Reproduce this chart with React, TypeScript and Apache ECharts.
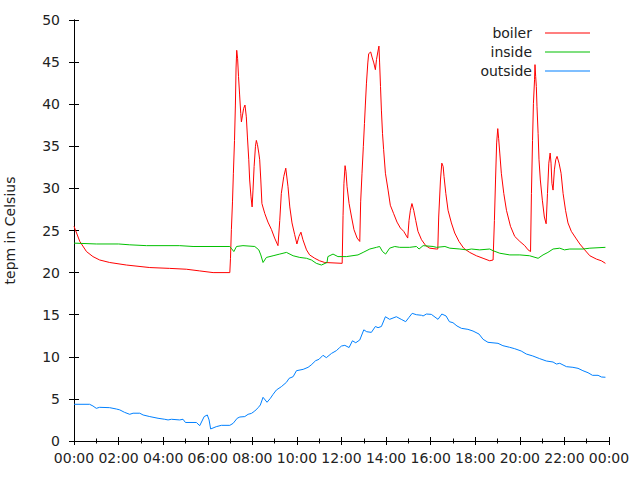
import React, { useEffect, useRef } from "react";
import * as echarts from "echarts";

const xTickHours = [0, 2, 4, 6, 8, 10, 12, 14, 16, 18, 20, 22, 24];
const yTicks = [0, 5, 10, 15, 20, 25, 30, 35, 40, 45, 50];
const seriesNames = ["boiler", "inside", "outside"];
const seriesColors = ["#ff0000", "#00c000", "#0080ff"];

const boiler: [number, number][] = [
  [0, 25.5], [0.26, 23.7], [0.56, 22.5], [0.85, 21.9], [1.15, 21.5], [1.6, 21.2], [2.35, 20.9],
  [3.4, 20.6], [4.29, 20.5], [5.04, 20.4], [5.64, 20.2], [6.24, 20.0], [6.99, 20.0],
  [7.02, 21.7], [7.06, 25.1], [7.11, 28.4], [7.15, 31.8], [7.2, 35.7], [7.24, 39.9], [7.27, 44.3],
  [7.3, 46.4], [7.34, 45.4], [7.38, 43.3], [7.43, 41.1], [7.48, 38.9], [7.51, 37.9], [7.56, 38.7],
  [7.61, 39.5], [7.67, 39.9], [7.73, 38.5], [7.78, 36.1], [7.84, 33.4], [7.88, 31.0], [7.94, 29.0],
  [7.99, 27.8], [8.03, 29.8], [8.08, 32.6], [8.14, 35.0], [8.18, 35.7], [8.23, 35.2], [8.29, 34.2],
  [8.33, 33.4], [8.38, 31.0], [8.43, 28.2], [8.56, 27.0], [8.7, 26.0], [8.86, 25.1], [9.0, 24.1],
  [9.15, 23.2], [9.23, 26.2], [9.3, 29.4], [9.41, 31.4], [9.5, 32.4], [9.6, 30.2], [9.68, 27.8],
  [9.78, 25.9], [9.9, 24.5], [10.0, 23.4], [10.09, 24.3], [10.18, 24.8], [10.27, 23.9], [10.43, 22.7],
  [10.57, 22.1], [10.8, 21.7], [11.02, 21.4], [11.25, 21.2], [12.03, 21.1], [12.07, 26.8],
  [12.11, 30.6], [12.16, 32.7], [12.2, 32.0], [12.25, 30.2], [12.34, 28.2], [12.45, 26.6],
  [12.56, 25.1], [12.7, 24.1], [12.82, 23.7], [12.86, 28.4], [12.92, 31.8], [12.98, 35.0],
  [13.03, 37.7], [13.07, 39.9], [13.12, 42.5], [13.18, 44.9], [13.22, 46.0], [13.31, 46.2],
  [13.37, 45.6], [13.45, 44.9], [13.52, 44.1], [13.57, 45.3], [13.63, 46.2], [13.68, 46.9],
  [13.71, 44.9], [13.75, 42.1], [13.79, 39.3], [13.84, 36.5], [13.89, 34.6], [13.97, 31.8],
  [14.09, 29.8], [14.19, 28.0], [14.34, 27.0], [14.49, 26.0], [14.64, 25.3], [14.79, 24.9],
  [14.97, 24.1], [15.03, 26.2], [15.09, 27.4], [15.16, 28.2], [15.24, 27.4], [15.33, 26.2],
  [15.43, 24.9], [15.59, 23.9], [15.78, 23.2], [15.96, 22.9], [16.26, 22.8], [16.32, 22.8],
  [16.36, 26.6], [16.44, 31.0], [16.5, 33.0], [16.56, 32.6], [16.6, 31.4], [16.68, 29.4],
  [16.78, 27.4], [16.93, 25.9], [17.08, 24.7], [17.27, 23.7], [17.48, 22.9], [17.75, 22.4],
  [18.05, 22.0], [18.35, 21.7], [18.65, 21.4], [18.8, 21.5], [18.86, 26.2], [18.91, 31.0],
  [18.96, 35.4], [19.01, 37.1], [19.05, 35.9], [19.1, 34.2], [19.17, 31.8], [19.28, 29.4],
  [19.4, 27.4], [19.58, 25.5], [19.77, 24.3], [20.0, 23.7], [20.22, 23.2], [20.37, 22.7],
  [20.48, 22.5], [20.52, 29.4], [20.57, 35.7], [20.61, 40.1], [20.66, 42.9], [20.68, 44.7],
  [20.71, 43.3], [20.74, 42.1], [20.77, 39.7], [20.82, 36.5], [20.86, 33.4], [20.92, 31.0],
  [21.01, 28.6], [21.1, 26.6], [21.18, 25.8], [21.24, 29.4], [21.3, 33.0], [21.36, 34.2],
  [21.4, 33.0], [21.44, 30.6], [21.49, 29.8], [21.55, 32.2], [21.61, 33.4], [21.67, 33.8],
  [21.76, 33.0], [21.85, 31.8], [21.94, 29.4], [22.05, 27.4], [22.16, 25.9], [22.31, 24.9],
  [22.51, 24.1], [22.69, 23.4], [22.91, 22.7], [23.14, 22.0], [23.44, 21.6], [23.66, 21.4],
  [23.84, 21.1],
];

const inside: [number, number][] = [
  [0, 23.5], [1.0, 23.4], [2.0, 23.4], [2.5, 23.3], [3.25, 23.2], [4.74, 23.2], [5.34, 23.1],
  [6.99, 23.1], [7.05, 22.9], [7.17, 22.5], [7.29, 23.1], [7.58, 23.2], [8.11, 23.1], [8.29, 22.7],
  [8.38, 22.1], [8.48, 21.2], [8.63, 21.8], [8.93, 22.0], [9.23, 22.2], [9.53, 22.4], [9.83, 22.0],
  [10.13, 21.8], [10.43, 21.7], [10.65, 21.5], [10.87, 21.1], [11.1, 20.9], [11.35, 21.2],
  [11.39, 21.9], [11.62, 22.2], [11.84, 21.9], [12.22, 21.9], [12.74, 22.1], [12.97, 22.4],
  [13.27, 22.8], [13.57, 23.0], [13.71, 23.1], [13.84, 22.5], [13.98, 22.2], [14.16, 22.9],
  [14.39, 23.1], [14.61, 23.0], [15.06, 23.0], [15.36, 23.1], [15.48, 22.8], [15.66, 23.2],
  [16.11, 23.1], [16.26, 23.0], [16.64, 23.1], [16.86, 22.9], [17.31, 22.8], [17.61, 22.7],
  [17.83, 22.8], [18.2, 22.7], [18.65, 22.8], [18.8, 22.6], [19.1, 22.3], [19.55, 22.1],
  [20.0, 22.1], [20.44, 22.0], [20.82, 21.7], [21.04, 22.1], [21.26, 22.4], [21.49, 22.8],
  [21.79, 22.9], [22.0, 22.7], [22.24, 22.8], [22.84, 22.8], [23.14, 22.9], [23.84, 23.0],
];

const outside: [number, number][] = [
  [0, 4.36], [0.7, 4.36], [0.85, 4.16], [1.0, 3.88], [1.15, 4.0], [1.6, 3.96], [1.9, 3.8],
  [2.05, 3.7], [2.27, 3.4], [2.5, 3.17], [2.65, 3.3], [2.95, 3.3], [3.1, 3.09], [3.4, 2.9],
  [3.77, 2.7], [4.07, 2.58], [4.22, 2.5], [4.37, 2.58], [4.74, 2.5], [4.89, 2.58], [5.0, 2.2],
  [5.49, 2.2], [5.64, 1.82], [5.84, 2.9], [5.98, 3.09], [6.06, 2.5], [6.13, 1.43], [6.38, 1.7],
  [6.61, 1.86], [6.99, 1.86], [7.14, 2.1], [7.32, 2.7], [7.44, 2.85], [7.66, 2.9], [7.81, 3.17],
  [7.96, 3.28], [8.11, 3.56], [8.26, 3.96], [8.36, 4.28], [8.48, 5.19], [8.66, 4.6], [8.81, 5.07],
  [8.93, 5.54], [9.08, 6.06], [9.3, 6.45], [9.53, 6.97], [9.65, 7.44], [9.83, 7.64], [9.98, 8.35],
  [10.28, 8.51], [10.5, 8.75], [10.64, 9.03], [10.84, 9.54], [10.99, 9.7], [11.17, 10.18],
  [11.32, 9.9], [11.55, 10.4], [11.77, 10.73], [11.92, 11.1], [12.0, 11.28], [12.15, 11.36],
  [12.34, 11.1], [12.49, 11.9], [12.64, 11.67], [12.82, 12.0], [13.0, 13.2], [13.13, 12.98],
  [13.34, 12.9], [13.52, 13.6], [13.64, 13.46], [13.79, 13.6], [13.97, 14.76], [14.16, 14.45],
  [14.46, 14.76], [14.68, 14.45], [14.88, 14.17], [15.03, 14.69], [15.17, 15.16], [15.36, 15.0],
  [15.59, 14.93], [15.66, 14.85], [15.81, 15.08], [16.03, 15.04], [16.33, 14.45], [16.5, 15.08],
  [16.69, 14.85], [16.84, 14.17], [17.0, 14.05], [17.18, 13.66], [17.38, 13.38], [17.67, 13.26],
  [17.9, 13.06], [18.17, 12.7], [18.35, 12.08], [18.57, 11.72], [19.02, 11.6], [19.24, 11.32],
  [19.54, 11.13], [19.77, 10.96], [20.06, 10.69], [20.29, 10.33], [20.58, 10.1], [20.89, 9.78],
  [21.19, 9.5], [21.49, 9.38], [21.64, 9.14], [21.79, 9.23], [22.09, 8.83], [22.38, 8.75],
  [22.61, 8.63], [22.83, 8.35], [23.06, 8.11], [23.26, 7.8], [23.51, 7.8], [23.66, 7.6],
  [23.84, 7.57],
];

const FONT = "DejaVu Sans";
const TEXT_COLOR = "#222";
const LEGEND_LINE_ICON = "path://M0,0 L45,0 L45,1 L0,1 Z";

function fmtHour(v: number): string {
  const h = Math.round(v) % 24;
  return (h < 10 ? "0" : "") + h + ":00";
}

export default function App() {
  const ref = useRef<HTMLDivElement>(null);
  useEffect(() => {
    document.body.style.margin = "0";
    const chart = echarts.init(ref.current!, null, { renderer: "svg" });
    const axisLine = { show: true, lineStyle: { color: "#000", width: 1 } };
    const xCommon = {
      type: "value" as const,
      min: xTickHours[0],
      max: xTickHours[xTickHours.length - 1],
      interval: 2,
      axisLine,
      axisTick: { show: true, inside: true, length: 4, lineStyle: { color: "#000" } },
      minorTick: { show: true, splitNumber: 2, length: 2.5, lineStyle: { color: "#000" } },
      splitLine: { show: false },
    };
    const yCommon = {
      type: "value" as const,
      min: yTicks[0],
      max: yTicks[yTicks.length - 1],
      interval: 5,
      axisLine,
      axisTick: { show: true, inside: true, length: 5, lineStyle: { color: "#000" } },
      splitLine: { show: false },
    };
    const datasets = [boiler, inside, outside];
    const legends = seriesNames.map((name, i) => ({
      data: [{ name, icon: LEGEND_LINE_ICON, itemStyle: { color: seriesColors[i] } }],
      right: 50,
      top: 26 + i * 19,
      orient: "vertical" as const,
      align: "right" as const,
      padding: 0,
      itemWidth: 45,
      itemHeight: 14,
      symbolKeepAspect: true,
      selectedMode: false,
      textStyle: {
        fontFamily: FONT,
        fontSize: 14,
        color: TEXT_COLOR,
        padding: [0, 8, 0, 0],
      },
    }));
    chart.setOption({
      animation: false,
      backgroundColor: "#fff",
      grid: { left: 74, right: 31, top: 20, bottom: 39, outerBoundsMode: "none", containLabel: false },
      legend: legends,
      xAxis: [
        {
          ...xCommon,
          position: "bottom",
          axisLabel: {
            show: true,
            margin: 10,
            fontFamily: FONT,
            fontSize: 14,
            color: TEXT_COLOR,
            formatter: (v: number) => fmtHour(v),
          },
        },
        { ...xCommon, position: "top", axisLabel: { show: false } },
      ],
      yAxis: [
        {
          ...yCommon,
          position: "left",
          name: "tepm in Celsius",
          nameLocation: "middle",
          nameGap: 57,
          nameRotate: 90,
          nameTextStyle: { fontFamily: FONT, fontSize: 14, color: TEXT_COLOR },
          axisLabel: { show: true, margin: 14, fontFamily: FONT, fontSize: 14, color: TEXT_COLOR },
        },
        { ...yCommon, position: "right", axisLabel: { show: false } },
      ],
      series: seriesNames.map((name, i) => ({
        name,
        type: "line",
        data: datasets[i],
        symbol: "none",
        color: seriesColors[i],
        lineStyle: { color: seriesColors[i], width: 1 },
        xAxisIndex: 0,
        yAxisIndex: 0,
      })),
    });
    return () => chart.dispose();
  }, []);
  return <div ref={ref} style={{ width: 640, height: 480 }} />;
}
